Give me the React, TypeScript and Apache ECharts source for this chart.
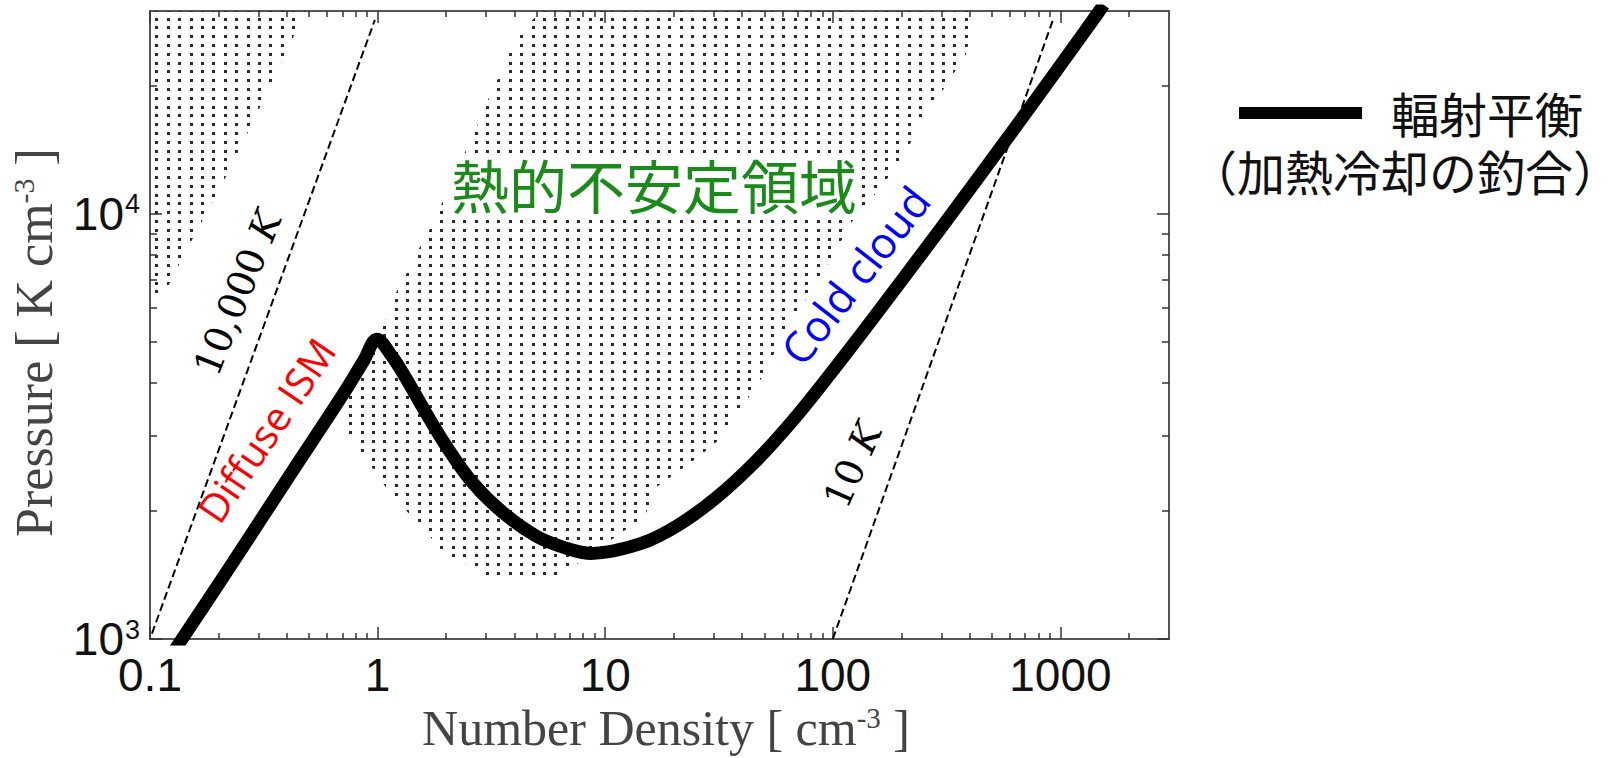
import { useEffect, useRef } from 'react';
import * as echarts from 'echarts';

// ---------------- data ----------------
const densityRange = [0.1, 3000];
const pressureRange = [1000, 30000];

const xTickValues = [0.1, 1, 10, 100, 1000];
const xTickLabels = ['0.1', '1', '10', '100', '1000'];
const xMinorTickValues = [
  0.2, 0.3, 0.4, 0.5, 0.6, 0.7, 0.8, 0.9,
  2, 3, 4, 5, 6, 7, 8, 9,
  20, 30, 40, 50, 60, 70, 80, 90,
  200, 300, 400, 500, 600, 700, 800, 900,
  2000,
];
const yTickValues = [1000, 10000];
const yTickBase = '10';
const yTickExponents = ['3', '4'];
const yMinorTickValues = [2000, 3000, 4000, 5000, 6000, 7000, 8000, 9000, 20000];

// radiative equilibrium (heating = cooling) curve
const equilibriumDensity = [
  0.125, 0.23, 0.421, 0.697, 0.871, 0.993,
  1.155, 1.331, 1.613, 2.013, 2.592, 3.51, 5.0, 6.77, 8.71,
  14.4, 20.9, 30.7, 45.2, 66.5, 94.2, 150, 300, 614, 1000, 1466, 1550,
];
const equilibriumPressure = [
  922, 1507, 2474, 3727, 4526, 5070,
  4625, 4108, 3438, 2831, 2344, 1994, 1743, 1634, 1590,
  1678, 1852, 2149, 2597, 3259, 4105, 5670, 9284, 15610, 22360, 29740, 31020,
];

// isotherms (dashed)
const isotherm10000KDensity = [0.102, 0.973];
const isotherm10000KPressure = [1030, 28600];
const isotherm10KDensity = [100, 930];
const isotherm10KPressure = [1000, 28700];

// stippled regions
const warmRegionDensity = [0.1, 0.48, 0.421, 0.316, 0.254, 0.197, 0.158, 0.128, 0.113, 0.1];
const warmRegionPressure = [30000, 30000, 25690, 18590, 14580, 11140, 8979, 7237, 6323, 6323];

const unstableRegionDensity = [
  5.25, 4.21, 3.77, 3.37, 2.99, 2.65, 2.34, 1.91, 1.7, 1.52, 1.34, 1.2, 1.07, 0.944, 0.811, 0.733,
  0.733, 0.82, 0.926, 1.044, 1.178, 1.317, 1.487, 1.663, 1.867, 2.084, 2.672, 2.985,
  5.93, 7.12, 9.63, 10.23, 11.79, 13.31, 15.03, 16.62, 21.18, 26.45, 32.36, 37.66, 42.5,
  52.0, 59.3, 74.8, 93.5, 120.3, 166.2, 213.9, 239, 307.7, 384.3, 425.1,
];
const unstableRegionPressure = [
  30000, 26690, 23690, 20720, 18100, 15400, 13450, 10550, 9224, 8279, 7237, 6496, 5526, 4829, 4289, 3727,
  3103, 2815, 2569, 2344, 2139, 2027, 1859, 1771, 1625, 1548, 1483, 1382,
  1382, 1474, 1625, 1687, 1781, 1859, 1962, 2270, 2488, 2713, 2973, 3401, 3687,
  4335, 5180, 6221, 7434, 9527, 11690, 14200, 16430, 19730, 23690, 30000,
];

const legendTitle = '輻射平衡';
const legendSubtitle = '（加熱冷却の釣合）';
const regionTitle = '熱的不安定領域';

// ---------------- helpers ----------------
const zip = (xs: number[], ys: number[]) => xs.map((x, i) => [x, ys[i]]);

function makeDotPattern() {
  const w = 57;
  const h = 44;
  const c = document.createElement('canvas');
  c.width = w;
  c.height = h;
  const ctx = c.getContext('2d')!;
  ctx.fillStyle = '#2a2a2a';
  const xs = [8, 20, 31, 42, 54];
  const ys = [1, 10, 19, 27, 36];
  for (const x of xs) {
    for (const y of ys) {
      for (const dy of [-h, 0, h]) {
        ctx.fillRect(x - 1, y + dy - 1, 3, 3);
      }
    }
  }
  return { image: c, repeat: 'repeat', imageWidth: w, imageHeight: h };
}

const axisLineStyle = { color: '#555', width: 2 };
const tickLineStyle = { color: '#333', width: 1.5 };

function logAxis(range: number[], position: string, ticks: number[], length: number, main: boolean) {
  return {
    type: 'log',
    logBase: 10,
    min: range[0],
    max: range[1],
    position,
    axisLine: { show: main, onZero: false, lineStyle: axisLineStyle },
    axisTick: { show: true, inside: true, length, customValues: ticks, lineStyle: tickLineStyle },
    axisLabel: { show: false },
    splitLine: { show: false },
    minorTick: { show: false },
    minorSplitLine: { show: false },
    axisPointer: { show: false },
  };
}

const findTick = (vals: number[], v: number) =>
  vals.findIndex((t) => Math.abs(Math.log10(t) - Math.log10(v)) < 1e-6);

const serif = '"Liberation Serif", "Times New Roman", serif';
const sans = '"Liberation Sans", Arial, sans-serif';
const cjk = '"Noto Sans CJK JP", sans-serif';

export default function App() {
  const ref = useRef<HTMLDivElement>(null);

  useEffect(() => {
    if (!ref.current) return;
    const chart = echarts.init(ref.current, null, { renderer: 'svg' });
    const dotPattern = makeDotPattern();
    const regions = [
      zip(warmRegionDensity, warmRegionPressure),
      zip(unstableRegionDensity, unstableRegionPressure),
    ];

    const xMain: any = logAxis(densityRange, 'bottom', xTickValues, 12, true);
    xMain.axisLabel = {
      show: true,
      customValues: xTickValues,
      margin: 13,
      fontSize: 46,
      fontFamily: sans,
      color: '#111',
      formatter: (v: number) => {
        const i = findTick(xTickValues, v);
        return i >= 0 ? xTickLabels[i] : '';
      },
    };
    xMain.name = '{a|Number Density [ cm}{s|-3}{a| ]}';
    xMain.nameLocation = 'middle';
    xMain.nameGap = 64;
    xMain.nameTextStyle = {
      padding: [0, 0, 0, 13],
      rich: {
        a: { fontSize: 50, fontFamily: serif, color: '#444' },
        s: { fontSize: 29, fontFamily: serif, color: '#444', verticalAlign: 'top' },
      },
    };

    const yMain: any = logAxis(pressureRange, 'left', yTickValues, 12, true);
    yMain.axisLabel = {
      show: true,
      customValues: yTickValues,
      margin: 10,
      formatter: (v: number) => {
        const i = findTick(yTickValues, v);
        return i >= 0 ? `{b|${yTickBase}}{s|${yTickExponents[i]}}` : '';
      },
      rich: {
        b: { fontSize: 46, fontFamily: sans, color: '#111' },
        s: { fontSize: 27, fontFamily: sans, color: '#111', verticalAlign: 'top', padding: [0, 0, 0, 1] },
      },
    };
    yMain.name = '{a|Pressure [ K cm}{s|-3}{a| ]}';
    yMain.nameLocation = 'middle';
    yMain.nameGap = 90;
    yMain.nameTextStyle = {
      padding: [0, 35, 0, 0],
      rich: {
        a: { fontSize: 52, fontFamily: serif, color: '#444' },
        s: { fontSize: 30, fontFamily: serif, color: '#444', verticalAlign: 'top' },
      },
    };

    const mathRich = {
      d: { fontSize: 38, fontFamily: '"DejaVu Serif", serif', fill: '#000' },
      k: { fontSize: 38, fontFamily: '"DejaVu Serif", serif', fontStyle: 'italic', fill: '#000' },
    };

    const option: any = {
      animation: false,
      backgroundColor: '#fff',
      grid: { left: 148, top: 11, width: 1021, height: 631, containLabel: false },
      xAxis: [
        xMain,
        logAxis(densityRange, 'bottom', xMinorTickValues, 6, false),
        logAxis(densityRange, 'top', xTickValues, 12, true),
        logAxis(densityRange, 'top', xMinorTickValues, 6, false),
      ],
      yAxis: [
        yMain,
        logAxis(pressureRange, 'left', yMinorTickValues, 7, false),
        logAxis(pressureRange, 'right', yTickValues, 12, true),
        logAxis(pressureRange, 'right', yMinorTickValues, 7, false),
      ],
      series: [
        {
          type: 'custom',
          name: 'regions',
          coordinateSystem: 'cartesian2d',
          xAxisIndex: 0,
          yAxisIndex: 0,
          silent: true,
          z: 1,
          data: regions.map((r) => r[0]),
          renderItem: (params: any, api: any) => {
            const pts = regions[params.dataIndex].map((p) => api.coord(p));
            return {
              type: 'polygon',
              shape: { points: pts },
              style: { fill: dotPattern, stroke: null },
            };
          },
        },
        {
          type: 'line',
          name: '10000K',
          xAxisIndex: 0,
          yAxisIndex: 0,
          data: zip(isotherm10000KDensity, isotherm10000KPressure),
          symbol: 'none',
          silent: true,
          z: 3,
          lineStyle: { color: '#000', width: 2, type: [8, 4] },
        },
        {
          type: 'line',
          name: '10K',
          xAxisIndex: 0,
          yAxisIndex: 0,
          data: zip(isotherm10KDensity, isotherm10KPressure),
          symbol: 'none',
          silent: true,
          z: 3,
          lineStyle: { color: '#000', width: 2, type: [8, 4] },
        },
        {
          type: 'line',
          name: legendTitle,
          xAxisIndex: 0,
          yAxisIndex: 0,
          data: zip(equilibriumDensity, equilibriumPressure),
          symbol: 'none',
          smooth: 0.35,
          silent: true,
          clip: true,
          z: 4,
          lineStyle: { color: '#000', width: 13, join: 'round', cap: 'butt' },
        },
      ],
      graphic: [
        {
          type: 'text',
          x: 654,
          y: 184,
          z: 50,
          style: {
            text: regionTitle,
            fontSize: 58,
            lineHeight: 60,
            fontFamily: cjk,
            fill: '#1a8a1a',
            align: 'center',
            verticalAlign: 'middle',
            backgroundColor: '#fff',
            padding: [0, 3],
          },
        },
        {
          type: 'text',
          x: 238,
          y: 293,
          z: 50,
          rotation: (68 * Math.PI) / 180,
          style: { text: '{d|10,000 }{k|K}', align: 'center', verticalAlign: 'middle', rich: mathRich },
        },
        {
          type: 'text',
          x: 853,
          y: 465,
          z: 50,
          rotation: (66 * Math.PI) / 180,
          style: { text: '{d|10 }{k|K}', align: 'center', verticalAlign: 'middle', rich: mathRich },
        },
        {
          type: 'text',
          x: 266,
          y: 430,
          z: 50,
          rotation: (56 * Math.PI) / 180,
          style: {
            text: 'Diffuse ISM',
            fontSize: 40,
            fontFamily: '"Open Sans", sans-serif',
            fill: '#ff0000',
            align: 'center',
            verticalAlign: 'middle',
          },
        },
        {
          type: 'text',
          x: 855,
          y: 275,
          z: 50,
          rotation: (52 * Math.PI) / 180,
          style: {
            text: 'Cold cloud',
            fontSize: 43,
            fontFamily: '"Open Sans", sans-serif',
            fill: '#0000ff',
            align: 'center',
            verticalAlign: 'middle',
          },
        },
        {
          type: 'rect',
          z: 50,
          shape: { x: 1239, y: 107, width: 123, height: 12 },
          style: { fill: '#000' },
        },
        {
          type: 'text',
          x: 1621,
          y: 83,
          z: 50,
          style: {
            text: `{t|${legendTitle}}\n{s|${legendSubtitle}}`,
            align: 'right',
            verticalAlign: 'top',
            rich: {
              t: { fontSize: 48, lineHeight: 58, fontFamily: cjk, fill: '#111', padding: [0, 38, 0, 0] },
              s: { fontSize: 48, lineHeight: 58, fontFamily: cjk, fill: '#111' },
            },
          },
        },
      ],
    };

    chart.setOption(option);
    return () => chart.dispose();
  }, []);

  return (
    <div
      ref={ref}
      style={{ position: 'fixed', left: 0, top: 0, width: 1623, height: 758, background: '#fff' }}
    />
  );
}
